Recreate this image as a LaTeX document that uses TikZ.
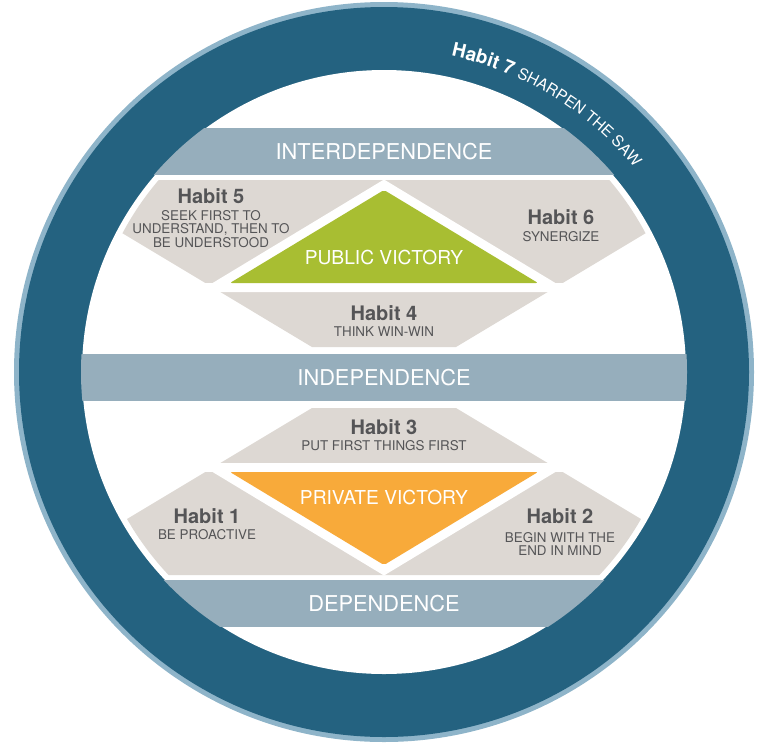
\documentclass[tikz,border=0pt]{standalone}
\usepackage{fontspec}
\setmainfont{TeX Gyre Heros}
\usetikzlibrary{decorations.text}
\definecolor{ringdark}{RGB}{36,98,128}
\definecolor{rimblue}{RGB}{142,180,201}
\definecolor{bandblue}{RGB}{150,174,188}
\definecolor{panelgray}{RGB}{221,216,211}
\definecolor{habitgreen}{RGB}{168,190,50}
\definecolor{habitorange}{RGB}{248,170,58}
\definecolor{habittext}{RGB}{85,85,87}
\newcommand\victorypanel[1]{%
  \fill[panelgray] (33.7,180) -- (734.3,180) -- (456,347) -- (312,347) -- cycle;
  \fill[white] (384,179.5) -- (570.3,292) -- (197.7,292) -- cycle;
  \fill[white] (0,283) rectangle (768,292);
  \fill[#1, rounded corners=2pt] (384,190) -- (538,283) -- (230,283) -- cycle;
}
\tikzset{
  bandtext/.style={text=white, inner sep=0pt, font=\fontsize{21.8}{21.8}\selectfont},
  victorytext/.style={text=white, inner sep=0pt, font=\fontsize{19.2}{19.2}\selectfont},
  habittitle/.style={text=habittext, inner sep=0pt, font=\bfseries\fontsize{20}{20}\selectfont},
  habitsub/.style={text=habittext, inner sep=0pt, align=center, font=\fontsize{13.4}{13.8}\selectfont},
  mirrored/.style={shift={(0,755)}, yscale=-1}
}
\begin{document}
\begin{tikzpicture}[x=1pt,y=-1pt]
\useasboundingbox (0,0) rectangle (768,750);
\coordinate (C) at (384,372);
% ring
\fill[rimblue] (C) circle (370);
\fill[ringdark] (C) circle (365);
\fill[white] (C) circle (302);
% bands
\begin{scope}
  \clip (C) circle (303);
  \fill[bandblue] (0,128) rectangle (768,175);
  \fill[bandblue] (0,354) rectangle (768,401);
  \fill[bandblue] (0,580) rectangle (768,627);
\end{scope}
% panels
\begin{scope}
  \clip (C) circle (296);
  \victorypanel{habitgreen}
  \begin{scope}[mirrored]
    \victorypanel{habitorange}
  \end{scope}
\end{scope}
% band labels
\node[bandtext] (inter) at (384,152) {INTERDEPENDENCE};
\node[bandtext] (indep) at (384,378) {INDEPENDENCE};
\node[bandtext] (dep) at (384,604) {DEPENDENCE};
% public victory
\node[victorytext] (public) at (384,257) {PUBLIC VICTORY};
\node[habittitle] (h5t) at (211,196) {Habit 5};
\node[habitsub] (h5s) at (211,229) {SEEK FIRST TO\\UNDERSTAND, THEN TO\\BE UNDERSTOOD};
\node[habittitle] (h6t) at (561,217) {Habit 6};
\node[habitsub] (h6s) at (561,237) {SYNERGIZE};
\node[habittitle] (h4t) at (384,313) {Habit 4};
\node[habitsub] (h4s) at (384,332) {THINK WIN-WIN};
% private victory
\node[habittitle] (h3t) at (384,427) {Habit 3};
\node[habitsub] (h3s) at (384,446) {PUT FIRST THINGS FIRST};
\node[victorytext] (private) at (384,497) {PRIVATE VICTORY};
\node[habittitle] (h1t) at (207,516) {Habit 1};
\node[habitsub] (h1s) at (207,535) {BE PROACTIVE};
\node[habittitle] (h2t) at (560,516) {Habit 2};
\node[habitsub] (h2s) at (560,544) {BEGIN WITH THE\\END IN MIND};
% habit 7 along ring
\path[decorate, decoration={text along path, text color=white,
  text={|\bfseries\fontsize{19}{19}\selectfont|Habit 7 |\mdseries\fontsize{15.5}{15.5}\selectfont|SHARPEN THE SAW}}]
  (C) ++(-78:323) arc[start angle=-78, end angle=-25, radius=323];
\end{tikzpicture}
\end{document}
